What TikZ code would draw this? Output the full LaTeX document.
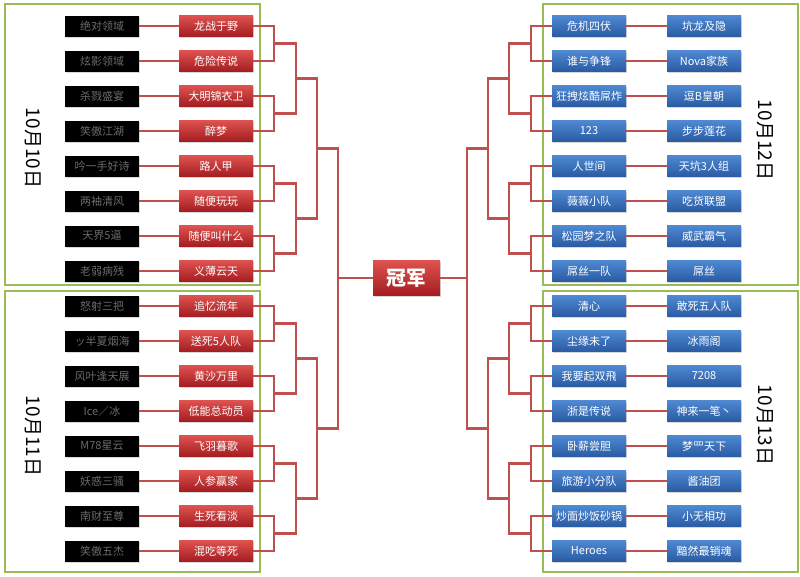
\documentclass[tikz,border=0pt]{standalone}
\usepackage{fontspec}
\setmainfont{Noto Sans CJK SC}
\usetikzlibrary{calc,shadows}
\definecolor{framegreen}{HTML}{9BBB59}
\definecolor{linkred}{HTML}{C0504D}
\definecolor{redtop}{HTML}{DE524F}
\definecolor{redbot}{HTML}{A41D21}
\definecolor{bluetop}{HTML}{4E89D2}
\definecolor{bluebot}{HTML}{2A5BA3}
\tikzset{
  team/.style={minimum width=74pt, minimum height=21pt, inner sep=0pt,
    font=\fontsize{11}{11}\selectfont, text=white,
    drop shadow={opacity=0.3, shadow xshift=1.2pt, shadow yshift=-1.2pt}},
  loser/.style={team, fill=black, text=black!58},
  redteam/.style={team, top color=redtop, bottom color=redbot},
  blueteam/.style={team, top color=bluetop, bottom color=bluebot},
  wire/.style={draw=linkred, line width=2.3pt},
  day/.style={draw=framegreen, line width=2.3pt},
  date/.style={rotate=-90, font=\fontsize{19}{19}\selectfont}
}
\begin{document}
\begin{tikzpicture}[x=1pt, y=-1pt]
\useasboundingbox[fill=white] (0,0) rectangle (800,576);
% day frames
\foreach \x/\y in {5/4, 5/291, 543/4, 543/291} {
  \draw[day] (\x,\y) rectangle ++(255,281);
}
\node[date] (t10) at (33,148) {10月10日};
\node[date] (t11) at (33,436) {10月11日};
\node[date] (t12) at (765,140) {10月12日};
\node[date] (t13) at (765,425) {10月13日};
% 10月10日
\foreach \i/\o/\w in {0/绝对领域/龙战于野, 1/炫影领域/危险传说, 2/杀戮盛宴/大明锦衣卫, 3/笑傲江湖/醉梦,
    4/吟一手好诗/路人甲, 5/两袖清风/随便玩玩, 6/天界5逼/随便叫什么, 7/老弱病残/义薄云天} {
  \node[loser] (d10o\i) at (102,26+35*\i) {\o};
  \node[redteam] (d10w\i) at (216,26+35*\i) {\w};
  \draw[wire] (d10o\i) -- (d10w\i);
}
% 10月11日
\foreach \i/\o/\w in {0/怒射三把/追忆流年, 1/ッ半夏烟海/送死5人队, 2/风叶逢天展/黄沙万里, 3/Ice／冰/低能总动员,
    4/M78星云/飞羽暮歌, 5/妖惑三骚/人参赢家, 6/南财至尊/生死看淡, 7/笑傲五杰/混吃等死} {
  \node[loser] (d11o\i) at (102,306+35*\i) {\o};
  \node[redteam] (d11w\i) at (216,306+35*\i) {\w};
  \draw[wire] (d11o\i) -- (d11w\i);
}
% 10月12日
\foreach \i/\w/\o in {0/危机四伏/坑龙及隐, 1/谁与争锋/Nova家族, 2/狂拽炫酷屌炸/逗B皇朝, 3/123/步步莲花,
    4/人世间/天坑3人组, 5/薇薇小队/吃货联盟, 6/松园梦之队/威武霸气, 7/屌丝一队/屌丝} {
  \node[blueteam] (d12w\i) at (589,26+35*\i) {\w};
  \node[blueteam] (d12o\i) at (704,26+35*\i) {\o};
  \draw[wire] (d12w\i) -- (d12o\i);
}
% 10月13日
\foreach \i/\w/\o in {0/清心/敢死五人队, 1/尘缘未了/冰雨阁, 2/我要起双飛/7208, 3/浙是传说/神来一笔丶,
    4/卧薪尝胆/梦罒天下, 5/旅游小分队/酱油团, 6/炒面炒饭砂锅/小无相功, 7/Heroes/黯然最销魂} {
  \node[blueteam] (d13w\i) at (589,306+35*\i) {\w};
  \node[blueteam] (d13o\i) at (704,306+35*\i) {\o};
  \draw[wire] (d13w\i) -- (d13o\i);
}
\node[redteam, minimum width=67pt, minimum height=35pt,
  font=\fontsize{20}{20}\selectfont\bfseries] (champ) at (406.5,278) {冠军};
% brackets
\foreach \g/\a/\s in {d10/east/1, d11/east/1, d12/west/-1, d13/west/-1} {
  \foreach \k in {0,1,2,3} {
    \pgfmathtruncatemacro{\m}{2*\k}
    \pgfmathtruncatemacro{\n}{2*\k+1}
    \coordinate (\g a\k) at ($(\g w\m.\a)!.5!(\g w\n.\a)+(\s*21,0)$);
    \draw[wire] (\g w\m.\a) -| (\g a\k) |- (\g w\n.\a);
  }
  \foreach \k in {0,1} {
    \pgfmathtruncatemacro{\m}{2*\k}
    \pgfmathtruncatemacro{\n}{2*\k+1}
    \coordinate (\g b\k) at ($(\g a\m)!.5!(\g a\n)+(\s*22,0)$);
    \draw[wire] (\g a\m) -| (\g b\k) |- (\g a\n);
  }
  \coordinate (\g c) at ($(\g b0)!.5!(\g b1)+(\s*21,0)$);
  \draw[wire] (\g b0) -| (\g c) |- (\g b1);
}
\coordinate (lfinal) at ($(d10c)!.5!(d11c)+(21,0)$);
\coordinate (rfinal) at ($(d12c)!.5!(d13c)+(-21,0)$);
\draw[wire] (d10c) -| (lfinal) |- (d11c);
\draw[wire] (d12c) -| (rfinal) |- (d13c);
\draw[wire] (champ) -- (champ -| lfinal);
\draw[wire] (champ) -- (champ -| rfinal);
\end{tikzpicture}
\end{document}
